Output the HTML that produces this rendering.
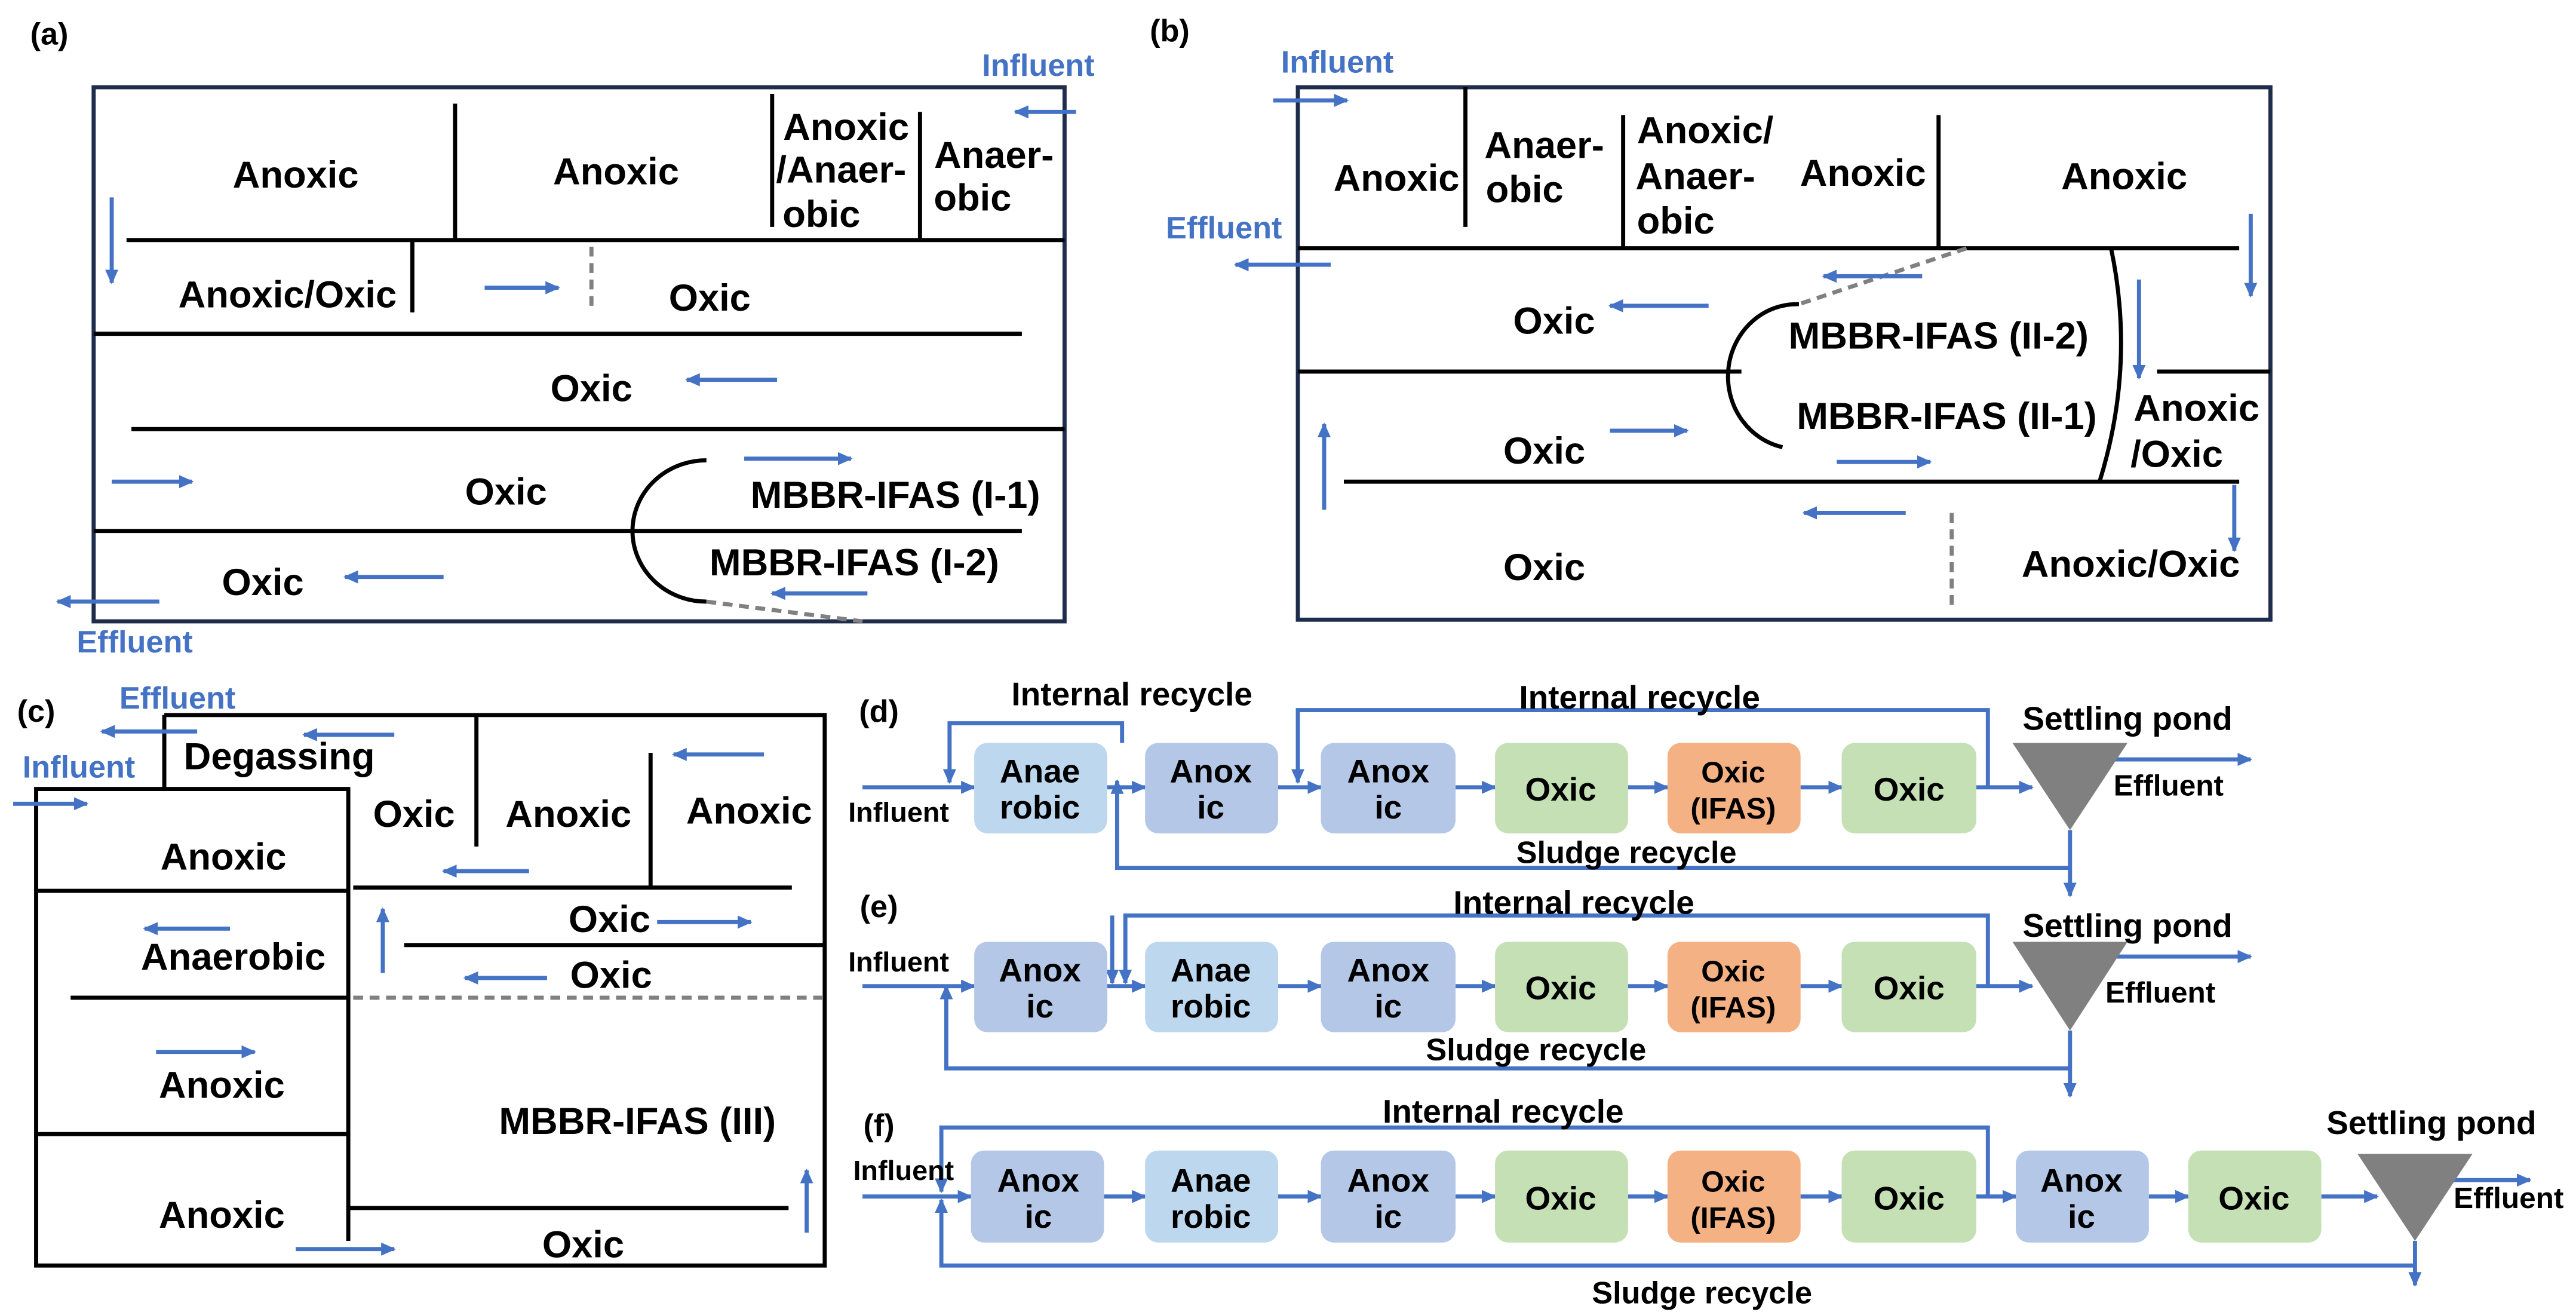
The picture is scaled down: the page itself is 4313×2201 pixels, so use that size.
<!DOCTYPE html>
<html><head><meta charset="utf-8"><style>
html,body{margin:0;padding:0;background:#fff;}
svg{display:block;}
text{font-family:"Liberation Sans",Arial,sans-serif;font-weight:bold;}
</style></head><body>
<svg width="4313" height="2201" viewBox="0 0 1568 800" xmlns="http://www.w3.org/2000/svg">
<defs>
<marker id="ar" markerWidth="9" markerHeight="8" refX="8" refY="4" orient="auto" markerUnits="userSpaceOnUse"><path d="M0,0 L9,4 L0,8 z" fill="#4472C4"/></marker>
</defs>
<rect width="1568" height="800" fill="#fff"/>
<g fill="none" stroke="#000" stroke-width="2.5">
<rect x="57" y="53" width="591" height="325" stroke="#1f2d4d"/>
<path d="M277,63V146 M470,57V138 M560,68V146 M77,146H648 M251,146V190 M57,203H622 M80,261H648 M57,323H622"/>
<path d="M430,280 A45,43 0 0 0 430,366"/>
<rect x="790" y="53" width="592" height="324" stroke="#1f2d4d"/>
<path d="M892,53V138 M988,70V150 M1180,70V150 M790,151H1363 M790,226H1060 M1313,226H1382 M818,293H1363"/>
<path d="M1095,185 A42,44 0 0 0 1085,272"/>
<path d="M1285,151 Q1300,222 1278,293"/>
<path d="M100,435H502V770H22V480H212V755 M100,435V480 M290,435V515 M396,458V540 M215,540H482 M246,575H502 M213,735H480 M22,542H212 M43,607H212 M22,690H212"/>
</g>
<g stroke="#808080" stroke-width="2.5" stroke-dasharray="6,4" fill="none">
<path d="M360,150V190 M430,366L525,378 M1197,151L1095,185 M1188,312V372 M215,607H502"/>
</g>
<g stroke="#4472C4" stroke-width="2.5" fill="none" marker-end="url(#ar)">
<path d="M655,68H618"/><path d="M68,120V172"/><path d="M295,175H340"/><path d="M473,231H418"/><path d="M68,293H117"/><path d="M453,279H518"/><path d="M270,351H210"/><path d="M528,361H470"/><path d="M97,366H35"/>
<path d="M775,61H820"/><path d="M810,161H752"/><path d="M1370,130V180"/><path d="M1170,168H1110"/><path d="M1040,186H980"/><path d="M980,262H1027"/><path d="M1118,281H1175"/><path d="M806,310V258"/><path d="M1160,312H1098"/><path d="M1360,295V335"/><path d="M1302,170V230"/>
<path d="M120,445H62"/><path d="M8,489H53"/><path d="M240,447H185"/><path d="M465,459H410"/><path d="M322,530H270"/><path d="M400,561H457"/><path d="M233,592V553"/><path d="M333,595H283"/><path d="M491,750V712"/><path d="M180,760H240"/><path d="M140,565H88"/><path d="M95,640H155"/>
<path d="M525,479H593"/><path d="M674,479H697"/><path d="M778,479H804"/><path d="M886,479H910"/><path d="M991,479H1015"/><path d="M1096,479H1121"/><path d="M1203,479H1237"/>
<path d="M683,452V440H578V476"/><path d="M1210,479V432H790V476"/><path d="M1260,505V545"/><path d="M1260,528H680V475"/><path d="M1275,462H1370"/>
<path d="M525,600H593"/><path d="M674,600H697"/><path d="M778,600H804"/><path d="M886,600H910"/><path d="M991,600H1015"/><path d="M1096,600H1121"/><path d="M1203,600H1237"/>
<path d="M1210,600V557H685V598"/><path d="M677,557V598"/><path d="M1260,627V667"/><path d="M1260,650H576V600"/><path d="M1275,582H1370"/>
<path d="M525,728H591"/><path d="M672,728H697"/><path d="M778,728H804"/><path d="M886,728H910"/><path d="M991,728H1015"/><path d="M1096,728H1121"/><path d="M1203,728H1227"/><path d="M1308,728H1332"/><path d="M1413,728H1447"/>
<path d="M1210,728V686H573V725"/><path d="M1470,755V782"/><path d="M1470,770H573V730"/><path d="M1490,718H1540"/>
</g>
<g stroke="none">
<rect x="593" y="452" width="81" height="55" rx="8" fill="#BDD7EE"/>
<rect x="697" y="452" width="81" height="55" rx="8" fill="#B4C7E7"/>
<rect x="804" y="452" width="82" height="55" rx="8" fill="#B4C7E7"/>
<rect x="910" y="452" width="81" height="55" rx="8" fill="#C5E0B4"/>
<rect x="1015" y="452" width="81" height="55" rx="8" fill="#F4B183"/>
<rect x="1121" y="452" width="82" height="55" rx="8" fill="#C5E0B4"/>
<polygon points="1225,452 1295,452 1260,505" fill="#808080"/>
<rect x="593" y="573" width="81" height="55" rx="8" fill="#B4C7E7"/>
<rect x="697" y="573" width="81" height="55" rx="8" fill="#BDD7EE"/>
<rect x="804" y="573" width="82" height="55" rx="8" fill="#B4C7E7"/>
<rect x="910" y="573" width="81" height="55" rx="8" fill="#C5E0B4"/>
<rect x="1015" y="573" width="81" height="55" rx="8" fill="#F4B183"/>
<rect x="1121" y="573" width="82" height="55" rx="8" fill="#C5E0B4"/>
<polygon points="1225,573 1295,573 1260,627" fill="#808080"/>
<rect x="591" y="700" width="81" height="56" rx="8" fill="#B4C7E7"/>
<rect x="697" y="700" width="81" height="56" rx="8" fill="#BDD7EE"/>
<rect x="804" y="700" width="82" height="56" rx="8" fill="#B4C7E7"/>
<rect x="910" y="700" width="81" height="56" rx="8" fill="#C5E0B4"/>
<rect x="1015" y="700" width="81" height="56" rx="8" fill="#F4B183"/>
<rect x="1121" y="700" width="82" height="56" rx="8" fill="#C5E0B4"/>
<rect x="1227" y="700" width="81" height="56" rx="8" fill="#B4C7E7"/>
<rect x="1332" y="700" width="81" height="56" rx="8" fill="#C5E0B4"/>
<polygon points="1435,702 1505,702 1470,755" fill="#808080"/>
</g>
<g fill="#000" font-size="23" text-anchor="middle">
<text x="30" y="27" font-size="19">(a)</text>
<text x="712" y="25" font-size="19">(b)</text>
<text x="22" y="439" font-size="19">(c)</text>
<text x="535" y="439" font-size="19">(d)</text>
<text x="535" y="558" font-size="19">(e)</text>
<text x="535" y="691" font-size="19">(f)</text>
<text x="180" y="114">Anoxic</text><text x="375" y="112">Anoxic</text>
<text x="515" y="85">Anoxic</text><text x="512" y="111">/Anaer-</text><text x="500" y="138">obic</text>
<text x="605" y="102">Anaer-</text><text x="592" y="128">obic</text>
<text x="175" y="187">Anoxic/Oxic</text><text x="432" y="189">Oxic</text>
<text x="360" y="244">Oxic</text><text x="308" y="307">Oxic</text>
<text x="545" y="309">MBBR-IFAS (I-1)</text><text x="160" y="362">Oxic</text>
<text x="520" y="350">MBBR-IFAS (I-2)</text>
<text x="850" y="116">Anoxic</text><text x="940" y="96">Anaer-</text><text x="928" y="123">obic</text>
<text x="1038" y="87">Anoxic/</text><text x="1032" y="115">Anaer-</text><text x="1020" y="142">obic</text>
<text x="1134" y="113">Anoxic</text><text x="1293" y="115">Anoxic</text>
<text x="946" y="203">Oxic</text><text x="1180" y="212">MBBR-IFAS (II-2)</text>
<text x="1185" y="261">MBBR-IFAS (II-1)</text><text x="1337" y="256">Anoxic</text><text x="1325" y="284">/Oxic</text>
<text x="940" y="282">Oxic</text><text x="940" y="353">Oxic</text><text x="1297" y="351">Anoxic/Oxic</text>
<text x="170" y="468">Degassing</text>
<text x="252" y="503">Oxic</text><text x="346" y="503">Anoxic</text><text x="456" y="501">Anoxic</text>
<text x="371" y="567">Oxic</text><text x="372" y="601">Oxic</text>
<text x="388" y="690">MBBR-IFAS (III)</text><text x="355" y="765">Oxic</text>
<text x="136" y="529">Anoxic</text><text x="142" y="590">Anaerobic</text>
<text x="135" y="668">Anoxic</text><text x="135" y="747">Anoxic</text>
<text x="689" y="429" font-size="20">Internal recycle</text>
<text x="998" y="431" font-size="20">Internal recycle</text>
<text x="1295" y="444" font-size="20">Settling pond</text>
<text x="1320" y="484" font-size="18">Effluent</text>
<text x="547" y="500" font-size="17">Influent</text>
<text x="990" y="525" font-size="19">Sludge recycle</text>
<text x="958" y="556" font-size="20">Internal recycle</text>
<text x="1295" y="570" font-size="20">Settling pond</text>
<text x="1315" y="610" font-size="18">Effluent</text>
<text x="547" y="591" font-size="17">Influent</text>
<text x="935" y="645" font-size="19">Sludge recycle</text>
<text x="915" y="683" font-size="20">Internal recycle</text>
<text x="1480" y="690" font-size="20">Settling pond</text>
<text x="1527" y="735" font-size="18">Effluent</text>
<text x="550" y="718" font-size="17">Influent</text>
<text x="1036" y="793" font-size="19">Sludge recycle</text>
</g>
<g fill="#000" font-size="20" text-anchor="middle">
<text x="633" y="476">Anae</text><text x="633" y="498">robic</text>
<text x="737" y="476">Anox</text><text x="737" y="498">ic</text>
<text x="845" y="476">Anox</text><text x="845" y="498">ic</text>
<text x="950" y="487">Oxic</text>
<text x="1055" y="476" font-size="18">Oxic</text><text x="1055" y="498" font-size="18">(IFAS)</text>
<text x="1162" y="487">Oxic</text>
<text x="633" y="597">Anox</text><text x="633" y="619">ic</text>
<text x="737" y="597">Anae</text><text x="737" y="619">robic</text>
<text x="845" y="597">Anox</text><text x="845" y="619">ic</text>
<text x="950" y="608">Oxic</text>
<text x="1055" y="597" font-size="18">Oxic</text><text x="1055" y="619" font-size="18">(IFAS)</text>
<text x="1162" y="608">Oxic</text>
<text x="632" y="725">Anox</text><text x="632" y="747">ic</text>
<text x="737" y="725">Anae</text><text x="737" y="747">robic</text>
<text x="845" y="725">Anox</text><text x="845" y="747">ic</text>
<text x="950" y="736">Oxic</text>
<text x="1055" y="725" font-size="18">Oxic</text><text x="1055" y="747" font-size="18">(IFAS)</text>
<text x="1162" y="736">Oxic</text>
<text x="1267" y="725">Anox</text><text x="1267" y="747">ic</text>
<text x="1372" y="736">Oxic</text>
</g>
<g fill="#4472C4" font-size="19" text-anchor="middle">
<text x="632" y="46">Influent</text><text x="82" y="397">Effluent</text>
<text x="814" y="44">Influent</text><text x="745" y="145">Effluent</text>
<text x="108" y="431">Effluent</text><text x="48" y="473">Influent</text>
</g>
</svg>
</body></html>
